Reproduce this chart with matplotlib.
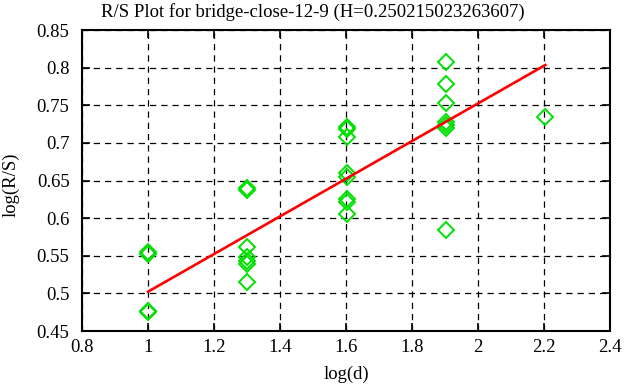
import numpy as np
import matplotlib.pyplot as plt

plt.rcParams['font.family'] = ['Liberation Serif', 'DejaVu Serif']

# log10 of block sizes 10, 20, 40, 80, 160
log_d = [1.0, 1.0, 1.0, 1.0,
         1.301, 1.301, 1.301, 1.301, 1.301, 1.301, 1.301,
         1.602, 1.602, 1.602, 1.602, 1.602, 1.602, 1.602, 1.602,
         1.903, 1.903, 1.903, 1.903, 1.903, 1.903, 1.903,
         2.204]
log_rs = [0.555, 0.552, 0.477, 0.475,
          0.640, 0.637, 0.561, 0.549, 0.543, 0.539, 0.515,
          0.721, 0.718, 0.708, 0.660, 0.654, 0.626, 0.621, 0.605,
          0.808, 0.778, 0.753, 0.728, 0.724, 0.720, 0.584,
          0.734]

H = 0.250215023263607
intercept = 0.252
fit_x = [1.0, 2.204]

fig = plt.figure(figsize=(6.26, 3.87), dpi=100)
ax = fig.add_axes([82 / 626, 1 - 331 / 387, 528 / 626, 301 / 387])

ax.plot(log_d, log_rs, linestyle='none', marker='D', markersize=7.8,
        markerfacecolor='none', markeredgecolor='#00e000', markeredgewidth=1.4)
fx = np.array(fit_x)
ax.plot(fx, H * fx + intercept, color='#ff0000', linewidth=1.9)

ax.set_xlim(0.8, 2.4)
ax.set_ylim(0.45, 0.85)
ax.set_xticks(np.arange(0.8, 2.41, 0.2))
ax.set_yticks(np.arange(0.45, 0.851, 0.05))
ax.set_xticklabels(['0.8', '1', '1.2', '1.4', '1.6', '1.8', '2', '2.2', '2.4'])
ax.set_yticklabels(['0.45', '0.5', '0.55', '0.6', '0.65', '0.7', '0.75', '0.8', '0.85'])
ax.grid(True, color='black', linestyle=(0, (5, 4)), linewidth=0.9)
ax.tick_params(direction='in', length=6, width=1.2, top=True, right=True,
               labelsize=13.5)
ax.tick_params(axis='y', pad=9)
ax.tick_params(axis='x', pad=6)
for s in ax.spines.values():
    s.set_linewidth(1.5)

ax.set_xlabel('log(d)', fontsize=13.5, labelpad=7)
ax.set_ylabel('log(R/S)', fontsize=13.5)
ax.yaxis.set_label_coords(-0.118, 0.485)

# title is centred on the whole figure, not the axes
fig.text(0.5, 1 - 12 / 387, 'R/S Plot for bridge-close-12-9 (H=0.250215023263607)',
         fontsize=13.5, ha='center', va='center')

fig.savefig('out.png', dpi=100)
